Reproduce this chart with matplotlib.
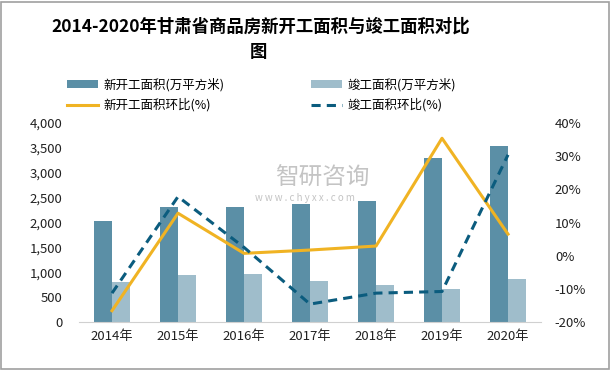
import numpy as np
import matplotlib.pyplot as plt
from matplotlib.patches import Rectangle

plt.rcParams['font.family'] = ['Noto Sans CJK SC', 'DejaVu Sans']

years = ['2014年', '2015年', '2016年', '2017年', '2018年', '2019年', '2020年']
new_area = [2030, 2305, 2305, 2365, 2430, 3296, 3537]
done_area = [804, 945, 965, 824, 744, 663, 864]
new_ratio = [-16.6, 12.8, 0.7, 1.7, 2.9, 35.4, 6.5]
done_ratio = [-11.3, 17.8, 2.5, -14.6, -11.3, -10.8, 30.4]

c_dark = '#5b8fa6'
c_light = '#9fbdcb'
c_yellow = '#f0b323'
c_navy = '#0b5c7e'

fig = plt.figure(figsize=(6.11, 3.70), dpi=100)
fig.patches.append(Rectangle((0.002, 0.003), 0.994, 0.992, transform=fig.transFigure,
                             fill=False, edgecolor='#a0a0a0', linewidth=1.2))

ax = fig.add_axes([79 / 611, 48 / 370, 462 / 611, 199 / 370])
x = np.arange(len(years))
w = 0.28
b1 = ax.bar(x - w / 2, new_area, w, color=c_dark, label='新开工面积(万平方米)')
b2 = ax.bar(x + w / 2, done_area, w, color=c_light, label='竣工面积(万平方米)')
ax.set_xlim(-0.5, 6.5)
ax.set_ylim(0, 4000)
ax.set_yticks(np.arange(0, 4001, 500))
ax.set_yticklabels([f'{v:,}' for v in range(0, 4001, 500)])
ax.set_xticks(x)
ax.set_xticklabels(years)
for s in ['top', 'right', 'left']:
    ax.spines[s].set_visible(False)
ax.spines['bottom'].set_color('#d0d0d0')
ax.tick_params(length=0, labelsize=9.5, colors='#222222')
ax.tick_params(axis='y', pad=12)
ax.tick_params(axis='x', pad=6)

ax2 = ax.twinx()
l1, = ax2.plot(x, new_ratio, color=c_yellow, lw=2.2, label='新开工面积环比(%)')
l2, = ax2.plot(x, done_ratio, color=c_navy, lw=2.2, ls=(0, (3, 2)), label='竣工面积环比(%)')
ax2.set_ylim(-20, 40)
ax2.set_yticks(np.arange(-20, 41, 10))
ax2.set_yticklabels([f'{v}%' for v in range(-20, 41, 10)])
for s in ['top', 'right', 'left', 'bottom']:
    ax2.spines[s].set_visible(False)
ax2.tick_params(length=0, labelsize=9.5, colors='#222222', pad=10)

# watermark
fig.text(322 / 611, 1 - 178 / 370, '智研咨询', fontsize=17, color='#c4c4c4', ha='center', va='center')
fig.text(305 / 611, 1 - 198 / 370, 'w w w . c h y x x . c o m', fontsize=7, color='#c4c4c4',
         ha='center', va='center')

fig.text(261 / 611, 1 - 27 / 370, '2014-2020年甘肃省商品房新开工面积与竣工面积对比', fontsize=12.5,
         fontweight='bold', ha='center', va='center')
fig.text(258 / 611, 1 - 52 / 370, '图', fontsize=12.5, fontweight='bold', ha='center', va='center')

kw = dict(loc='upper left', frameon=False, fontsize=9, handlelength=2.5,
          handletextpad=0.4, labelspacing=0.55, borderpad=0, borderaxespad=0)
fig.legend([b1, l1], [b1.get_label(), l1.get_label()],
           bbox_to_anchor=(67 / 611, 1 - 78 / 370), **kw)
fig.legend([b2, l2], [b2.get_label(), l2.get_label()],
           bbox_to_anchor=(311 / 611, 1 - 78 / 370), **kw)

fig.savefig('out.png', dpi=100)
